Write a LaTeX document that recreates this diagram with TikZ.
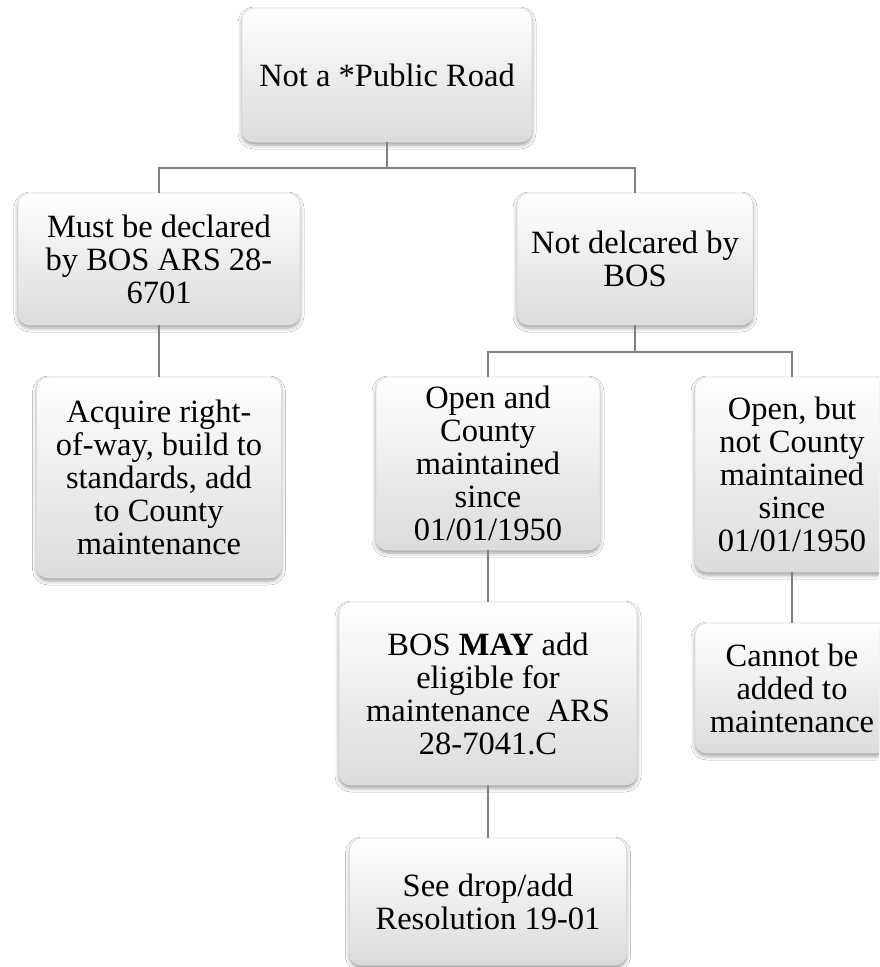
\documentclass[tikz,border=0pt]{standalone}
\usepackage{fontspec}
\setmainfont{Liberation Serif}
\usetikzlibrary{shadows.blur}
\begin{document}
\begin{tikzpicture}[x=1pt,y=-1pt,
  box/.style={rectangle, rounded corners=12pt, draw=black!13, line width=0.8pt,
    top color=white, middle color=white, bottom color=black!14,
    blur shadow={shadow xshift=0pt, shadow yshift=-3pt, shadow blur radius=4pt, shadow opacity=40},
    align=center, font=\fontsize{32.5}{33}\selectfont, inner sep=0pt, text=black},
  link/.style={draw=black!50, line width=1.2pt}]
\clip (0,0) rectangle (879,967);
\fill[white] (0,0) rectangle (879,967);

\node[box, minimum width=290pt, minimum height=134pt] (root) at (387,75) {Not a *Public Road};
\node[box, minimum width=282pt, minimum height=132pt] (A) at (159,259) {Must be declared\\by BOS ARS 28-\\6701};
\node[box, minimum width=236pt, minimum height=132pt] (B) at (635,259) {Not delcared by\\BOS};
\node[box, minimum width=245pt, minimum height=201pt] (A2) at (159,477.5) {Acquire right-\\of-way, build to\\standards, add\\to County\\maintenance};
\node[box, minimum width=224pt, minimum height=173pt] (C) at (488,463.5) {Open and\\County\\maintained\\since\\01/01/1950};
\node[box, minimum width=194pt, minimum height=195pt] (D) at (792,474.5) {Open, but\\not County\\maintained\\since\\01/01/1950};
\node[box, minimum width=298pt, minimum height=183pt] (E) at (488,693.5) {BOS \textbf{MAY} add\\eligible for\\maintenance\ \ ARS\\28-7041.C};
\node[box, minimum width=194pt, minimum height=130pt] (F) at (792,688) {Cannot be\\added to\\maintenance};
\node[box, minimum width=277pt, minimum height=127pt] (G) at (488,901.5) {See drop/add\\Resolution 19-01};

\coordinate (j1) at (387,168);
\coordinate (j2) at (635,352);
\draw[link] (root.south) -- (j1) -| (A.north);
\draw[link] (j1) -| (B.north);
\draw[link] (A.south) -- (A2.north);
\draw[link] (B.south) -- (j2) -| (C.north);
\draw[link] (j2) -| (D.north);
\draw[link] (C.south) -- (E.north);
\draw[link] (D.south) -- (F.north);
\draw[link] (E.south) -- (G.north);
\end{tikzpicture}
\end{document}
